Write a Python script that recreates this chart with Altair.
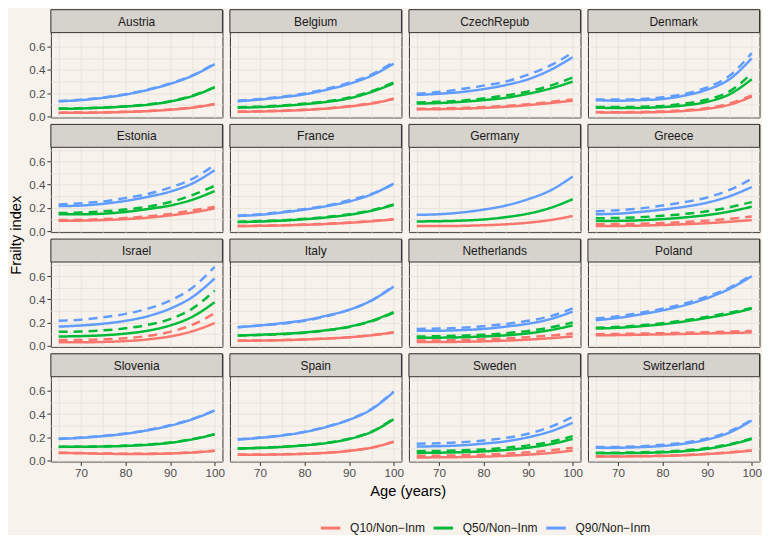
import altair as alt
import pandas as pd

# ---------------- data ----------------
ages = [65, 70, 75, 80, 85, 90, 95, 100]
quantiles = ["Q10", "Q50", "Q90"]
groups = ["Non-Inm", "Inm"]

AUSTRIA = {
    "Q10": [0.030, 0.031, 0.033, 0.038, 0.045, 0.057, 0.075, 0.105],
    "Q10_inm": [0.032, 0.033, 0.035, 0.040, 0.047, 0.059, 0.077, 0.106],
    "Q50": [0.065, 0.068, 0.075, 0.085, 0.100, 0.128, 0.175, 0.250],
    "Q50_inm": [0.067, 0.070, 0.077, 0.087, 0.103, 0.131, 0.178, 0.252],
    "Q90": [0.130, 0.140, 0.160, 0.188, 0.228, 0.280, 0.350, 0.450],
    "Q90_inm": [0.132, 0.143, 0.163, 0.191, 0.231, 0.283, 0.353, 0.455],
}
BELGIUM = {
    "Q10": [0.040, 0.042, 0.047, 0.055, 0.067, 0.085, 0.110, 0.150],
    "Q10_inm": [0.042, 0.044, 0.049, 0.058, 0.070, 0.088, 0.114, 0.152],
    "Q50": [0.075, 0.080, 0.090, 0.105, 0.125, 0.155, 0.210, 0.285],
    "Q50_inm": [0.079, 0.084, 0.094, 0.110, 0.131, 0.162, 0.217, 0.292],
    "Q90": [0.130, 0.145, 0.165, 0.190, 0.230, 0.280, 0.350, 0.455],
    "Q90_inm": [0.135, 0.150, 0.170, 0.198, 0.238, 0.290, 0.360, 0.468],
}
CZECH = {
    "Q10": [0.060, 0.062, 0.066, 0.073, 0.083, 0.097, 0.115, 0.135],
    "Q10_inm": [0.065, 0.068, 0.073, 0.080, 0.090, 0.105, 0.125, 0.145],
    "Q50": [0.110, 0.115, 0.125, 0.140, 0.160, 0.195, 0.240, 0.300],
    "Q50_inm": [0.120, 0.125, 0.135, 0.155, 0.180, 0.215, 0.265, 0.335],
    "Q90": [0.185, 0.195, 0.210, 0.235, 0.270, 0.320, 0.400, 0.510],
    "Q90_inm": [0.195, 0.210, 0.235, 0.265, 0.300, 0.360, 0.440, 0.550],
}
DENMARK = {
    "Q10": [0.035, 0.033, 0.034, 0.038, 0.047, 0.065, 0.100, 0.170],
    "Q10_inm": [0.037, 0.036, 0.038, 0.043, 0.053, 0.072, 0.110, 0.180],
    "Q50": [0.075, 0.072, 0.073, 0.080, 0.095, 0.125, 0.190, 0.320],
    "Q50_inm": [0.080, 0.080, 0.082, 0.090, 0.110, 0.145, 0.215, 0.370],
    "Q90": [0.140, 0.135, 0.140, 0.150, 0.180, 0.230, 0.320, 0.500],
    "Q90_inm": [0.145, 0.145, 0.150, 0.165, 0.195, 0.250, 0.350, 0.545],
}
ESTONIA = {
    "Q10": [0.088, 0.090, 0.095, 0.103, 0.115, 0.135, 0.160, 0.195],
    "Q10_inm": [0.095, 0.097, 0.103, 0.113, 0.127, 0.148, 0.178, 0.210],
    "Q50": [0.145, 0.145, 0.150, 0.165, 0.190, 0.220, 0.270, 0.345],
    "Q50_inm": [0.155, 0.160, 0.170, 0.185, 0.210, 0.250, 0.310, 0.390],
    "Q90": [0.215, 0.220, 0.235, 0.260, 0.295, 0.340, 0.410, 0.525],
    "Q90_inm": [0.230, 0.240, 0.255, 0.285, 0.320, 0.375, 0.450, 0.570],
}
FRANCE = {
    "Q10": [0.043, 0.045, 0.049, 0.054, 0.061, 0.071, 0.084, 0.100],
    "Q10_inm": [0.044, 0.046, 0.050, 0.056, 0.063, 0.073, 0.086, 0.101],
    "Q50": [0.077, 0.082, 0.090, 0.102, 0.118, 0.140, 0.175, 0.225],
    "Q50_inm": [0.080, 0.086, 0.094, 0.106, 0.122, 0.145, 0.180, 0.230],
    "Q90": [0.130, 0.140, 0.160, 0.185, 0.215, 0.255, 0.315, 0.410],
    "Q90_inm": [0.135, 0.145, 0.165, 0.190, 0.220, 0.265, 0.320, 0.405],
}
GERMANY = {
    "Q10": [0.043, 0.043, 0.045, 0.050, 0.058, 0.072, 0.095, 0.130],
    "Q50": [0.083, 0.085, 0.090, 0.100, 0.120, 0.150, 0.200, 0.275],
    "Q90": [0.140, 0.145, 0.160, 0.185, 0.220, 0.275, 0.350, 0.470],
}
GREECE = {
    "Q10": [0.043, 0.044, 0.047, 0.052, 0.059, 0.068, 0.080, 0.095],
    "Q10_inm": [0.058, 0.060, 0.064, 0.070, 0.078, 0.090, 0.105, 0.125],
    "Q50": [0.086, 0.088, 0.093, 0.103, 0.118, 0.138, 0.168, 0.210],
    "Q50_inm": [0.110, 0.113, 0.120, 0.132, 0.148, 0.170, 0.205, 0.250],
    "Q90": [0.145, 0.150, 0.165, 0.185, 0.210, 0.245, 0.300, 0.380],
    "Q90_inm": [0.170, 0.180, 0.195, 0.220, 0.250, 0.290, 0.355, 0.450],
}
ISRAEL = {
    "Q10": [0.030, 0.030, 0.033, 0.040, 0.055, 0.080, 0.125, 0.195],
    "Q10_inm": [0.050, 0.050, 0.055, 0.065, 0.085, 0.120, 0.180, 0.280],
    "Q50": [0.080, 0.083, 0.090, 0.105, 0.130, 0.175, 0.250, 0.375],
    "Q50_inm": [0.120, 0.123, 0.133, 0.150, 0.180, 0.230, 0.320, 0.475],
    "Q90": [0.165, 0.175, 0.190, 0.215, 0.255, 0.320, 0.420, 0.580],
    "Q90_inm": [0.215, 0.225, 0.245, 0.275, 0.320, 0.390, 0.500, 0.680],
}
ITALY = {
    "Q10": [0.043, 0.045, 0.048, 0.054, 0.062, 0.073, 0.090, 0.115],
    "Q10_inm": [0.044, 0.046, 0.049, 0.055, 0.063, 0.074, 0.091, 0.116],
    "Q50": [0.088, 0.095, 0.103, 0.115, 0.135, 0.165, 0.215, 0.290],
    "Q50_inm": [0.088, 0.093, 0.100, 0.112, 0.132, 0.162, 0.210, 0.285],
    "Q90": [0.160, 0.175, 0.195, 0.220, 0.260, 0.310, 0.390, 0.510],
    "Q90_inm": [0.160, 0.175, 0.190, 0.215, 0.255, 0.310, 0.390, 0.515],
}
NETHERLANDS = {
    "Q10": [0.032, 0.032, 0.034, 0.038, 0.044, 0.053, 0.065, 0.080],
    "Q10_inm": [0.045, 0.046, 0.049, 0.055, 0.063, 0.074, 0.088, 0.105],
    "Q50": [0.070, 0.070, 0.073, 0.080, 0.090, 0.107, 0.135, 0.175],
    "Q50_inm": [0.080, 0.082, 0.087, 0.095, 0.108, 0.128, 0.158, 0.200],
    "Q90": [0.130, 0.130, 0.135, 0.145, 0.165, 0.190, 0.230, 0.295],
    "Q90_inm": [0.145, 0.148, 0.155, 0.168, 0.188, 0.215, 0.255, 0.322],
}
POLAND = {
    "Q10": [0.090, 0.092, 0.095, 0.098, 0.102, 0.106, 0.110, 0.115],
    "Q10_inm": [0.100, 0.102, 0.105, 0.108, 0.112, 0.117, 0.122, 0.127],
    "Q50": [0.148, 0.155, 0.168, 0.185, 0.210, 0.240, 0.275, 0.320],
    "Q50_inm": [0.155, 0.163, 0.176, 0.195, 0.220, 0.250, 0.285, 0.325],
    "Q90": [0.220, 0.240, 0.270, 0.305, 0.350, 0.410, 0.490, 0.600],
    "Q90_inm": [0.235, 0.255, 0.285, 0.320, 0.365, 0.425, 0.500, 0.610],
}
SLOVENIA = {
    "Q10": [0.065, 0.062, 0.058, 0.056, 0.056, 0.060, 0.068, 0.083],
    "Q10_inm": [0.067, 0.064, 0.060, 0.058, 0.058, 0.062, 0.070, 0.084],
    "Q50": [0.117, 0.118, 0.120, 0.125, 0.135, 0.152, 0.182, 0.225],
    "Q50_inm": [0.118, 0.119, 0.122, 0.128, 0.138, 0.155, 0.184, 0.226],
    "Q90": [0.185, 0.195, 0.210, 0.230, 0.260, 0.300, 0.355, 0.430],
    "Q90_inm": [0.187, 0.197, 0.212, 0.233, 0.263, 0.303, 0.358, 0.432],
}
SPAIN = {
    "Q10": [0.050, 0.050, 0.052, 0.057, 0.066, 0.082, 0.110, 0.160],
    "Q10_inm": [0.051, 0.051, 0.053, 0.058, 0.067, 0.083, 0.111, 0.162],
    "Q50": [0.103, 0.108, 0.117, 0.130, 0.150, 0.185, 0.245, 0.355],
    "Q50_inm": [0.104, 0.109, 0.118, 0.131, 0.152, 0.187, 0.248, 0.360],
    "Q90": [0.180, 0.195, 0.215, 0.245, 0.290, 0.350, 0.440, 0.590],
    "Q90_inm": [0.182, 0.197, 0.217, 0.247, 0.292, 0.352, 0.443, 0.595],
}
SWEDEN = {
    "Q10": [0.026, 0.027, 0.029, 0.033, 0.040, 0.050, 0.064, 0.085],
    "Q10_inm": [0.040, 0.041, 0.044, 0.050, 0.058, 0.070, 0.087, 0.110],
    "Q50": [0.065, 0.067, 0.071, 0.078, 0.090, 0.110, 0.140, 0.185],
    "Q50_inm": [0.080, 0.082, 0.087, 0.095, 0.110, 0.130, 0.160, 0.210],
    "Q90": [0.120, 0.123, 0.130, 0.145, 0.165, 0.200, 0.250, 0.325],
    "Q90_inm": [0.145, 0.148, 0.157, 0.172, 0.195, 0.230, 0.290, 0.375],
}
SWITZERLAND = {
    "Q10": [0.035, 0.035, 0.036, 0.039, 0.045, 0.055, 0.068, 0.085],
    "Q10_inm": [0.037, 0.037, 0.038, 0.041, 0.047, 0.057, 0.070, 0.087],
    "Q50": [0.063, 0.063, 0.065, 0.070, 0.080, 0.100, 0.135, 0.185],
    "Q50_inm": [0.066, 0.067, 0.070, 0.076, 0.087, 0.107, 0.140, 0.190],
    "Q90": [0.110, 0.110, 0.115, 0.125, 0.145, 0.180, 0.240, 0.345],
    "Q90_inm": [0.115, 0.117, 0.123, 0.135, 0.155, 0.190, 0.250, 0.350],
}

countries = ["Austria", "Belgium", "CzechRepub", "Denmark",
             "Estonia", "France", "Germany", "Greece",
             "Israel", "Italy", "Netherlands", "Poland",
             "Slovenia", "Spain", "Sweden", "Switzerland"]
country_data = [AUSTRIA, BELGIUM, CZECH, DENMARK, ESTONIA, FRANCE, GERMANY, GREECE,
                ISRAEL, ITALY, NETHERLANDS, POLAND, SLOVENIA, SPAIN, SWEDEN, SWITZERLAND]

x_ticks = [65, 70, 75, 80, 85, 90, 95, 100]
y_ticks = [0.0, 0.1, 0.2, 0.3, 0.4, 0.5, 0.6, 0.7]

# ---------------- styling ----------------
FONT = "Liberation Sans"
BG = "#f7f3ec"
STRIP_FILL = "#d6d2cc"
BORDER = "#333333"
GRID = "#e8e4dc"
COLORS = ["#F8766D", "#00BA38", "#619CFF"]
W, PH, SH = 172, 85, 23
H = PH + SH

rows = []
for name, d in zip(countries, country_data):
    for q in quantiles:
        for g, key in (("Non-Inm", q), ("Inm", q + "_inm")):
            if key in d:
                for a, v in zip(ages, d[key]):
                    rows.append({"country": name, "quantile": q, "group": g, "age": a, "value": v})
df = pd.DataFrame(rows)

# y range of the plot area is [-0.009, 0.722] over PH pixels; the strip sits above it
y_lo, y_hi = -0.009, 0.722
y_top = y_hi + (y_hi - y_lo) * SH / PH
x_scale = alt.Scale(domain=[63.25, 101.75], nice=False, zero=False)
y_scale = alt.Scale(domain=[y_lo, y_top], nice=False, zero=False)

x_major = "datum.value % 10 == 0"
y_major = "round(datum.value * 10) % 2 == 0"


def x_axis(show):
    if show:
        return alt.Axis(values=x_ticks, title=None, grid=True, gridColor=GRID, gridWidth=1,
                        domain=False, tickSize=4, tickColor=BORDER,
                        tickOpacity={"condition": {"test": x_major, "value": 1}, "value": 0},
                        labelExpr=f"{x_major} ? datum.label : ''",
                        labelFont=FONT, labelFontSize=11.7, labelColor="#4d4d4d", labelPadding=2)
    return alt.Axis(values=x_ticks, title=None, grid=True, gridColor=GRID, gridWidth=1,
                    domain=False, ticks=False, labels=False)


def y_axis(show):
    if show:
        return alt.Axis(values=y_ticks, title=None, grid=True, gridColor=GRID, gridWidth=1,
                        domain=False, tickSize=4, tickColor=BORDER,
                        tickOpacity={"condition": {"test": y_major, "value": 1}, "value": 0},
                        labelExpr=f"{y_major} ? format(datum.value, '.1f') : ''",
                        labelFont=FONT, labelFontSize=11.7, labelColor="#4d4d4d", labelPadding=2)
    return alt.Axis(values=y_ticks, title=None, grid=True, gridColor=GRID, gridWidth=1,
                    domain=False, ticks=False, labels=False)


legend = alt.Legend(orient="none", legendX=269, legendY=508, direction="horizontal", title=None,
                    labelExpr="datum.label + '/Non\u2212Inm'", symbolType="stroke",
                    symbolStrokeWidth=3, symbolSize=380, labelFont=FONT, labelFontSize=12,
                    labelColor="#1a1a1a", columnPadding=1, labelOffset=8)


def panel(i, name):
    r, c = divmod(i, 4)
    lines = alt.Chart(df[df.country == name]).mark_line(
        strokeWidth=2.5, interpolate="monotone"
    ).encode(
        x=alt.X("age:Q", scale=x_scale, axis=x_axis(r == 3)),
        y=alt.Y("value:Q", scale=y_scale, axis=y_axis(c == 0)),
        color=alt.Color("quantile:N", scale=alt.Scale(domain=quantiles, range=COLORS), legend=legend),
        strokeDash=alt.StrokeDash("group:N", scale=alt.Scale(domain=groups, range=[[1, 0], [9, 6]]),
                                  legend=None),
    )
    lab = pd.DataFrame({"label": [name]})
    strip_bg = alt.Chart(lab).mark_rect(fill=STRIP_FILL, stroke=BORDER, strokeWidth=1).encode(
        x=alt.value(0), x2=alt.value(W), y=alt.value(0), y2=alt.value(SH)
    )
    strip_txt = alt.Chart(lab).mark_text(
        font=FONT, fontSize=12, color="#1a1a1a", baseline="middle", align="center"
    ).encode(text="label:N", x=alt.value(W / 2), y=alt.value(SH / 2 + 0.5))
    return alt.layer(lines, strip_bg, strip_txt).properties(width=W, height=H)


panels = [panel(i, n) for i, n in enumerate(countries)]
grid = alt.concat(*panels, columns=4, spacing={"row": 7, "column": 7.5}, bounds="flush").properties(
    title=alt.TitleParams("Frailty index", orient="left", anchor="middle", font=FONT,
                          fontSize=14.7, fontWeight="normal", color="black", offset=5, dx=9)
)

middle = alt.vconcat(grid, spacing=0).properties(
    title=alt.TitleParams("Age (years)", orient="bottom", anchor="middle", font=FONT,
                          fontSize=14.7, fontWeight="normal", color="black", offset=4, dx=23)
)

chart = alt.vconcat(middle, spacing=0).properties(
    background=BG,
    padding=0,
).configure_view(fill=BG, stroke=BORDER, strokeWidth=1)

chart.save("out.html", embed_options={"renderer": "svg", "actions": False})
